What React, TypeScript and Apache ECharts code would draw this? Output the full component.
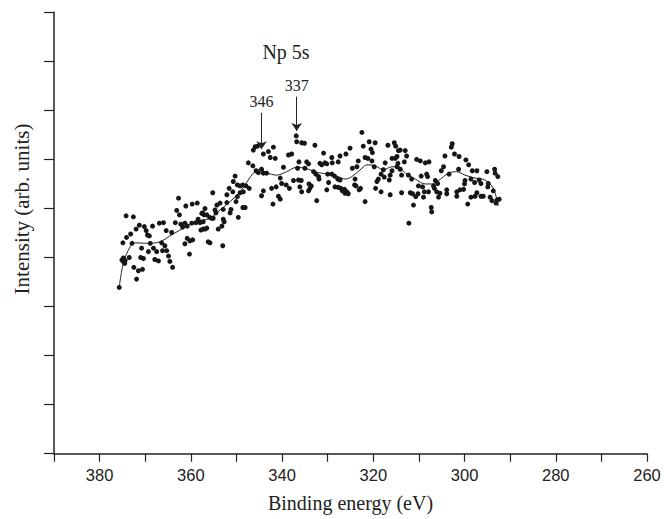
import React, { useEffect, useRef } from "react";
import * as echarts from "echarts";

// Binding energy (eV) / intensity (arb. units) of measured points
const dots: [number, number][] = [
  [375.7,3.39],[375.1,3.95],[374.8,3.92],[374.5,3.88],[374.4,3.94],[374.8,3.99],[374.2,4.85],[372.6,4.83],[374.9,4.30],[374.1,4.41],
  [373.2,4.48],[372.0,4.58],[371.3,4.66],[372.9,4.29],[373.5,4.00],[372.5,3.80],[371.5,3.73],[370.6,3.76],[371.9,3.56],[371.0,4.00],
  [370.4,3.98],[370.8,4.19],[370.2,4.63],[369.8,4.55],[369.5,4.46],[369.1,4.44],[368.4,4.64],[366.9,4.70],[366.0,4.71],[369.3,4.12],
  [368.9,4.29],[368.2,4.19],[367.5,4.12],[367.9,3.96],[367.1,3.93],[366.4,4.30],[365.7,4.24],[366.2,4.14],[365.3,4.14],[365.4,4.55],
  [364.2,4.51],[364.9,4.03],[364.6,3.92],[364.0,3.80],[362.7,5.21],[363.1,4.96],[362.5,4.87],[363.4,4.71],[362.2,4.68],[361.8,4.62],
  [361.3,4.70],[360.8,4.64],[361.1,5.05],[359.7,5.09],[358.6,5.11],[360.8,4.39],[360.2,4.34],[361.3,4.28],[359.6,4.36],[360.3,4.07],
  [359.8,4.70],[358.9,4.71],[358.4,4.78],[357.6,4.90],[357.1,4.87],[357.8,4.56],[356.9,4.58],[356.5,4.60],[356.2,4.32],
  [345.9,6.26],[346.3,6.19],[345.4,6.27],[344.1,6.11],[343.0,6.16],[341.9,6.25],[342.6,6.04],[341.5,6.02],[338.6,6.09],[337.9,6.11],
  [336.9,6.48],[336.8,6.36],[347.4,5.93],[346.4,5.87],[345.7,5.77],[345.2,5.73],[344.5,5.80],[344.1,5.72],[343.4,5.72],[339.7,5.84],
  [350.3,5.66],[350.7,5.55],[349.8,5.48],[349.2,5.46],[348.6,5.48],[347.9,5.46],[347.2,5.41],[340.4,5.62],[340.1,5.51],[339.1,5.48],
  [338.4,5.41],[337.5,5.57],[336.4,5.58],[342.3,5.41],[341.3,5.44],[344.1,5.36],[344.5,5.26],[340.8,5.25],[340.4,5.19],[342.0,5.09],
  [351.6,5.41],[352.1,5.28],[350.8,5.34],[349.2,5.32],[348.5,5.34],[349.8,5.24],[350.1,5.14],[348.6,5.02],[348.1,5.02],[355.2,5.32],
  [353.6,5.11],[354.3,5.07],[354.7,4.97],[354.5,4.91],[352.1,5.12],[351.2,4.98],[351.4,4.91],[352.9,4.98],[356.9,5.00],[357.4,4.91],
  [356.5,4.87],[355.9,4.82],[355.4,4.80],[358.0,4.71],[357.3,4.73],[355.1,4.80],[352.9,4.78],[352.7,4.73],[353.2,4.64],[354.0,4.58],
  [349.6,4.82],[357.3,4.58],[355.8,4.30],[353.0,4.24],
  [335.7,6.34],[335.1,6.33],[332.8,6.29],[322.5,6.55],[322.2,6.27],[320.9,6.36],[319.6,6.34],[320.5,6.21],[320.2,6.14],[325.1,6.23],
  [326.0,6.11],[316.8,6.29],[315.4,6.34],[315.1,6.27],[330.9,6.13],[329.1,6.04],[327.3,6.07],[336.3,5.95],[334.6,5.95],[334.2,5.91],
  [331.7,5.92],[331.3,5.89],[330.6,5.93],[330.2,5.91],[329.0,5.93],[327.7,5.95],[323.3,5.97],[323.6,5.85],[321.8,6.04],[321.2,6.02],
  [320.3,5.97],[319.8,5.85],[317.4,5.93],[315.9,6.02],[314.8,6.06],[314.5,6.18],[336.6,5.82],[335.0,5.82],[333.1,5.75],[332.6,5.70],
  [332.0,5.65],[331.9,5.60],[330.0,5.70],[329.1,5.70],[328.5,5.66],[327.8,5.60],[327.3,5.58],[324.6,5.82],[324.0,5.60],[324.1,5.48],
  [323.1,5.38],[317.8,5.79],[318.3,5.70],[318.9,5.60],[319.2,5.55],[317.6,5.64],[316.3,5.68],[315.9,5.77],[316.5,5.58],[335.8,5.57],
  [336.1,5.44],[335.7,5.34],[334.1,5.50],[333.6,5.46],[333.9,5.41],[334.2,5.36],[329.8,5.53],[330.2,5.38],[328.4,5.44],[327.7,5.43],
  [327.1,5.41],[326.8,5.36],[326.3,5.39],[325.8,5.34],[325.5,5.30],[326.2,5.31],[323.8,5.46],[322.8,5.41],[319.5,5.41],[318.3,5.34],
  [316.3,5.28],[332.4,5.16],[321.8,5.14],
  [314.1,6.19],[313.0,6.18],[312.7,6.07],[313.2,5.95],[315.2,6.02],[314.6,5.92],[314.8,5.85],[314.1,5.80],[313.8,5.68],[310.5,6.00],
  [309.7,5.97],[308.6,5.93],[307.8,5.95],[302.7,6.32],[302.9,6.25],[304.3,6.07],[302.2,6.11],[301.2,6.06],[299.7,5.99],[304.6,5.85],
  [305.1,5.77],[303.4,5.70],[301.3,5.80],[299.1,5.89],[298.3,5.77],[297.3,5.77],[295.1,5.75],[293.4,5.80],[293.3,5.72],[292.7,5.65],
  [312.3,5.68],[311.6,5.60],[309.5,5.66],[308.3,5.70],[308.1,5.65],[310.1,5.46],[309.2,5.44],[306.4,5.57],[305.9,5.51],[306.8,5.46],
  [306.6,5.41],[299.9,5.57],[300.0,5.50],[298.6,5.60],[297.8,5.53],[296.8,5.58],[296.4,5.51],[294.8,5.51],[294.9,5.44],[313.8,5.32],
  [311.9,5.32],[311.4,5.30],[310.7,5.24],[310.2,5.30],[308.8,5.34],[307.9,5.34],[309.0,5.23],[306.1,5.34],[305.4,5.31],[305.7,5.23],
  [303.9,5.38],[303.9,5.30],[301.7,5.34],[301.0,5.38],[300.2,5.39],[301.7,5.25],[298.6,5.23],[297.7,5.25],[297.3,5.32],[296.4,5.25],
  [295.9,5.25],[294.4,5.23],[294.0,5.16],[293.7,5.36],[292.9,5.17],[292.4,5.19],[293.1,5.11],[311.2,5.07],[307.3,5.02],[307.2,4.93],
  [299.3,5.09],[312.2,4.70],
];

// Smoothed fit curve
const fitX = [375.7,374.8,373.3,372.2,369.7,366.8,364.6,362.4,360.2,358.0,355.8,353.6,351.4,349.2,347.4,346.3,344.8,343.4,341.2,339.0,336.8,334.2,332.0,329.8,327.7,326.2,324.7,322.5,321.4,319.6,317.8,315.9,314.5,313.0,310.8,308.6,307.2,305.7,303.5,301.7,299.9,297.7,295.5,293.7,292.6];
const fitY = [3.39,3.88,4.22,4.30,4.29,4.32,4.44,4.56,4.68,4.75,4.80,4.97,5.14,5.34,5.58,5.72,5.80,5.73,5.68,5.75,5.84,5.80,5.73,5.70,5.65,5.60,5.65,5.82,5.89,5.87,5.79,5.85,5.85,5.72,5.60,5.50,5.50,5.57,5.72,5.75,5.68,5.62,5.58,5.41,5.05];

// Peak markers: label, energy, arrow top, arrow bottom
const peakLabels = ["346", "337"];
const peakX = [344.5, 336.8];
const peakTop = [6.95, 7.28];
const peakBottom = [6.21, 6.58];

const xTickStep = 10;
const xLabelStep = 20;

export default function App() {
  const ref = useRef<HTMLDivElement>(null);
  useEffect(() => {
    if (!ref.current) return;
    const chart = echarts.init(ref.current, undefined, { renderer: "svg" });
    const ink = "#222";
    const serif = '"Liberation Serif", "Times New Roman", serif';
    const sans = '"Liberation Sans", Arial, sans-serif';
    chart.setOption({
      animation: false,
      backgroundColor: "#fff",
      grid: { left: 54, right: 17, top: 12.3, bottom: 65.3, containLabel: false },
      xAxis: {
        type: "value",
        inverse: true,
        min: 260,
        max: 390,
        interval: xTickStep,
        name: "Binding energy (eV)",
        nameLocation: "middle",
        nameGap: 39,
        nameTextStyle: { fontFamily: serif, fontSize: 20, color: ink },
        axisLine: { lineStyle: { color: ink, width: 1.5 } },
        axisTick: { inside: false, length: 8, lineStyle: { color: ink, width: 1.2 } },
        axisLabel: {
          margin: 13,
          fontFamily: sans,
          fontSize: 16.5,
          color: ink,
          formatter: (v: number) => (v % xLabelStep === 0 ? String(v) : ""),
        },
        splitLine: { show: false },
      },
      yAxis: {
        type: "value",
        min: 0,
        max: 9,
        interval: 1,
        axisLine: { show: true, lineStyle: { color: ink, width: 1.5 } },
        axisTick: { show: true, inside: false, length: 10, lineStyle: { color: ink, width: 1.2 } },
        axisLabel: { show: false },
        splitLine: { show: false },
      },
      graphic: [
        {
          type: "text",
          x: 286,
          y: 52,
          style: { text: "Np 5s", font: `20px ${serif}`, fill: ink, textAlign: "center", textVerticalAlign: "middle" },
        },
        {
          type: "text",
          x: 22,
          y: 209,
          rotation: Math.PI / 2,
          style: { text: "Intensity (arb. units)", font: `21px ${serif}`, fill: ink, textAlign: "center", textVerticalAlign: "middle" },
        },
      ],
      series: [
        {
          type: "scatter",
          data: dots,
          symbol: "circle",
          symbolSize: 5,
          itemStyle: { color: "#161616", opacity: 1 },
          silent: true,
          z: 3,
        },
        {
          type: "line",
          data: fitX.map((x, i) => [x, fitY[i]]),
          smooth: 0.35,
          showSymbol: false,
          symbol: "none",
          lineStyle: { color: ink, width: 1 },
          silent: true,
          z: 2,
          markLine: {
            silent: true,
            symbol: ["none", "arrow"],
            symbolSize: 8,
            lineStyle: { color: ink, width: 1, type: "solid" },
            label: {
              show: true,
              position: "start",
              formatter: "{b}",
              fontFamily: serif,
              fontSize: 16,
              color: ink,
              distance: 3,
            },
            data: peakLabels.map((name, i) => [
              { name, coord: [peakX[i], peakTop[i]] },
              { coord: [peakX[i], peakBottom[i]] },
            ]),
          },
        },
      ],
    });
    return () => chart.dispose();
  }, []);
  return <div ref={ref} style={{ position: "absolute", left: 0, top: 0, width: 664, height: 519 }} />;
}
